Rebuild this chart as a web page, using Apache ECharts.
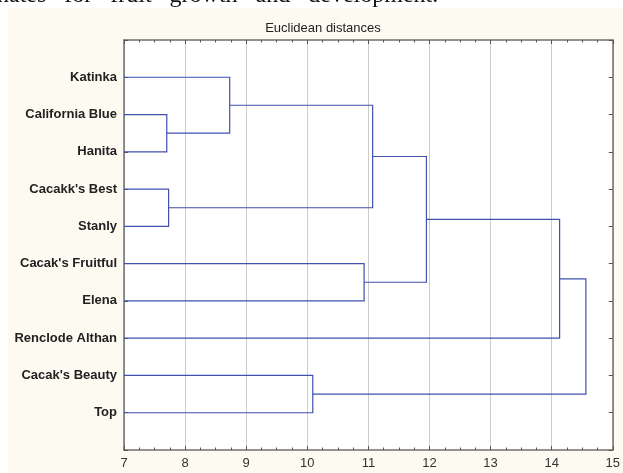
<!DOCTYPE html>
<html>
<head>
<meta charset="utf-8">
<script src="https://cdn.jsdelivr.net/npm/echarts@6/dist/echarts.min.js"></script>
<style>html,body{margin:0;padding:0;background:#fff}#c{width:623px;height:473px}</style>
</head>
<body>
<div id="c"></div>
<script>
// Leaves from top to bottom
var leaves = ['Katinka', 'California Blue', 'Hanita', "Cacakk's Best", 'Stanly',
  "Cacak's Fruitful", 'Elena', 'Renclode Althan', "Cacak's Beauty", 'Top'];
// Merges: [childA, childB, linkage distance]; indices 0-9 are leaves, 10+ are clusters in order
var mergeA = [1, 3, 0, 5, 8, 12, 15, 16, 17];
var mergeB = [2, 4, 10, 6, 9, 11, 13, 7, 14];
var mergeH = [7.70, 7.73, 8.73, 10.93, 10.09, 11.07, 11.95, 14.13, 14.56];
var xTicks = [7, 8, 9, 10, 11, 12, 13, 14, 15];
var xMin = 7, xMax = 15;
var pageText = 'nates   for   fruit   growth   and   development.';

var nodeX = [], nodeY = [];
leaves.forEach(function (n, i) { nodeX.push(xMin); nodeY.push(leaves.length - i); });
var segs = [];
for (var k = 0; k < mergeH.length; k++) {
  var a = mergeA[k], b = mergeB[k], h = mergeH[k];
  segs.push({coords: [[nodeX[a], nodeY[a]], [h, nodeY[a]], [h, nodeY[b]], [nodeX[b], nodeY[b]]]});
  nodeX.push(h); nodeY.push((nodeY[a] + nodeY[b]) / 2);
}

var chart = echarts.init(document.getElementById('c'), null, {renderer: 'canvas'});
var axisLineStyle = {color: '#6f6f6f', width: 1.5};
var font = 'Liberation Sans, Arial, sans-serif';
chart.setOption({
  backgroundColor: '#ffffff',
  animation: false,
  graphic: [
    {type: 'rect', z: -10, shape: {x: 8, y: 8, width: 615, height: 465}, style: {fill: '#fdfaf1'}},
    {type: 'text', z: -5, x: -3, y: -4, style: {text: pageText, font: '24px "Liberation Serif", "Times New Roman", serif', fill: '#111', verticalAlign: 'middle', align: 'left'}}
  ],
  title: {
    text: 'Euclidean distances', left: 318, top: 17, textAlign: 'center',
    textStyle: {fontFamily: font, fontSize: 13, fontWeight: 'normal', color: '#222'}
  },
  grid: {left: 124, right: 8.5, top: 40, bottom: 23, show: true, backgroundColor: '#ffffff', borderWidth: 0},
  xAxis: [
    {type: 'value', min: xMin, max: xMax, interval: 1, position: 'bottom',
      axisLine: {show: true, onZero: false, lineStyle: axisLineStyle},
      axisTick: {show: true, inside: true, length: 4, lineStyle: {color: '#555'}},
      minorTick: {show: true, splitNumber: 4, length: 2.5, lineStyle: {color: '#555'}},
      splitLine: {show: true, lineStyle: {color: '#cccccc', width: 1}},
      axisLabel: {color: '#333', fontFamily: font, fontSize: 13, margin: 7,
        formatter: function (v) { return xTicks.indexOf(v) >= 0 ? String(v) : ''; }}
    },
    {type: 'value', min: xMin, max: xMax, interval: 1, position: 'top',
      axisLine: {show: true, onZero: false, lineStyle: axisLineStyle},
      axisTick: {show: true, inside: true, length: 4, lineStyle: {color: '#555'}},
      minorTick: {show: true, splitNumber: 4, length: 2.5, lineStyle: {color: '#555'}},
      splitLine: {show: false}, axisLabel: {show: false}
    }
  ],
  yAxis: [
    {type: 'value', min: 0, max: leaves.length + 1, interval: 1, position: 'left',
      axisLine: {show: true, onZero: false, lineStyle: axisLineStyle},
      axisTick: {show: true, inside: true, length: 4, lineStyle: {color: '#555'}},
      splitLine: {show: false},
      axisLabel: {color: '#222', fontFamily: font, fontSize: 13, fontWeight: 'bold', margin: 7,
        formatter: function (v) { var i = leaves.length - v; return (i >= 0 && i < leaves.length) ? leaves[i] : ''; }}
    },
    {type: 'value', min: 0, max: leaves.length + 1, interval: 1, position: 'right',
      axisLine: {show: true, onZero: false, lineStyle: axisLineStyle},
      axisTick: {show: true, inside: true, length: 4, lineStyle: {color: '#555'}},
      splitLine: {show: false}, axisLabel: {show: false}
    }
  ],
  series: [{
    type: 'lines', coordinateSystem: 'cartesian2d', polyline: true, xAxisIndex: 0, yAxisIndex: 0,
    lineStyle: {color: '#3f50ad', width: 1.2, opacity: 1},
    data: segs, silent: true
  }]
});
</script>
</body>
</html>
